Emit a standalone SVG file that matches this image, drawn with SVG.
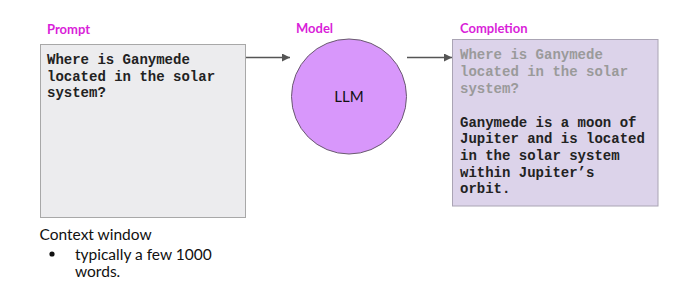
<svg xmlns="http://www.w3.org/2000/svg" width="700" height="287" viewBox="0 0 700 287">
<style>
.lbl{font-family:"Lato","Liberation Sans",sans-serif;font-weight:bold;font-size:13px;fill:#d91fd9}
.mono{font-family:"Liberation Mono","Courier New",monospace;font-weight:bold;font-size:14px;fill:#222}
.grey{fill:#9a9a9a}
.body{font-family:"Lato","Liberation Sans",sans-serif;font-size:15.5px;fill:#111}
.conn{stroke:#555;stroke-width:1.5;fill:none;marker-end:url(#ah)}
</style>
<defs>
<marker id="ah" viewBox="0 0 10 10" refX="10" refY="5" markerWidth="8" markerHeight="8" markerUnits="userSpaceOnUse" orient="auto">
<path d="M0,0 L10,5 L0,10 z" fill="#555"/>
</marker>
</defs>
<rect width="700" height="287" fill="#fff"/>
<g id="prompt">
<text class="lbl" x="47" y="34">Prompt</text>
<rect x="40.5" y="44.5" width="205" height="173" fill="#ececee" stroke="#a8a8a8" stroke-width="1"/>
<text class="mono" x="47" y="64">Where is Ganymede</text>
<text class="mono" x="47" y="80.7">located in the solar</text>
<text class="mono" x="47" y="97.4">system?</text>
</g>
<g id="model">
<text class="lbl" x="296" y="33">Model</text>
<circle cx="349" cy="96.5" r="57.5" fill="#d897fb" stroke="#6a5a70" stroke-width="1"/>
<text x="349" y="102" text-anchor="middle" style="font-family:'Lato','Liberation Sans',sans-serif;font-size:15px;fill:#111">LLM</text>
</g>
<g id="completion">
<text class="lbl" x="460" y="33">Completion</text>
<rect x="452.5" y="39.5" width="205.5" height="166.5" fill="#dcd3ea" stroke="#aaa4b4" stroke-width="1"/>
<text class="mono grey" x="460" y="59.3">Where is Ganymede</text>
<text class="mono grey" x="460" y="76">located in the solar</text>
<text class="mono grey" x="460" y="92.7">system?</text>
<text class="mono" x="460" y="126.7">Ganymede is a moon of</text>
<text class="mono" x="460" y="143.3">Jupiter and is located</text>
<text class="mono" x="460" y="160">in the solar system</text>
<text class="mono" x="460" y="176.7">within Jupiter’s</text>
<text class="mono" x="460" y="193.3">orbit.</text>
</g>
<g id="context">
<text class="body" x="39.5" y="240">Context window</text>
<circle cx="52" cy="254" r="2.6" fill="#111"/>
<text class="body" x="75" y="260">typically a few 1000</text>
<text class="body" x="75" y="276.5">words.</text>
</g>
<g id="connectors">
<line class="conn" x1="246" y1="57.5" x2="290" y2="57.5"/>
<line class="conn" x1="407" y1="57.5" x2="452" y2="57.5"/>
</g>
</svg>
